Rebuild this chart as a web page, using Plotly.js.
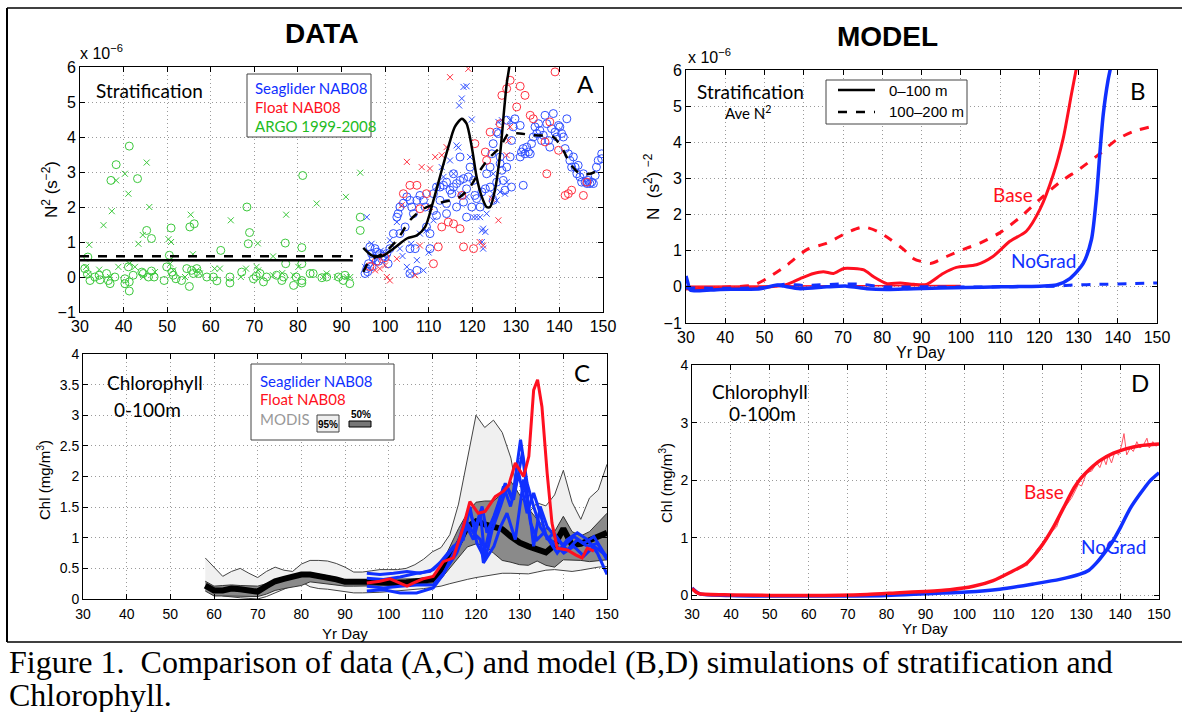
<!DOCTYPE html>
<html><head><meta charset="utf-8">
<script src="https://cdn.plot.ly/plotly-3.0.1.min.js"></script>
<style>html,body{margin:0;padding:0;background:#fff}#c{width:1182px;height:712px}</style>
</head><body><div id="c"></div>
<script>
// ---------- Panel A: data (N^2, units 1e-6 s^-2) ----------
const argoCircles = [[31.1,0.24],[31.7,0.08],[32.3,-0.1],[33.4,0],[34.6,-0.08],[34.4,0.05],[36.1,0.1],[36.5,-0.1],[36.9,-0.19],[38,0],[40.3,-0.05],[40.3,-0.19],[41.1,0.29],[41.3,-0.14],[41.3,-0.4],[42.2,0.05],[44.2,0.14],[44.5,0.1],[45.7,0],[46.4,0.17],[47,0],[49.3,-0.1],[49.9,0.29],[50.5,0.62],[51.1,0.14],[51.4,0.05],[52,-0.05],[53.3,-0.1],[54.5,0.24],[55.1,-0.27],[55.6,0.19],[56,0.1],[56.8,0.24],[57.2,0.1],[59.1,0],[60.6,0],[61.4,-0.11],[64.4,0],[64.4,-0.17],[67.1,0.14],[69.8,-0.05],[70.4,0.02],[71.3,0.1],[72.1,-0.14],[72.8,0],[75.1,0.05],[76.3,-0.1],[76.7,0],[79,-0.24],[79.6,0],[80.9,-0.17],[82.8,0.1],[80.9,0.38],[83.5,0.1],[85.5,-0.02],[86.6,0],[89.3,0],[90.4,-0.1],[91.9,-0.19],[90.8,0.05],[94.3,1.33],[94.3,1.71],[80.9,-0.1],[31.8,0.57],[41.3,3.74],[38.3,3.21],[37.1,2.76],[43.2,2.81],[45.3,1.33],[46.4,1.1],[50.9,1.4],[55.2,1.43],[56.2,1.52],[68.3,2.0],[68.9,1.27],[62.3,0.76],[68.6,0.95],[81.1,2.9],[80.9,0.84],[77.1,0.97],[77.2,0.38]];
const argoCrosses = [[45.3,3.27],[40.3,2.95],[41.1,2.38],[38.3,2.76],[37.3,1.88],[35.4,1.48],[32.1,0.92],[43.4,0.95],[45.9,2.0],[44.4,1.2],[50.3,1.08],[50.9,1.0],[55.4,1.78],[55.9,0.65],[64.6,1.62],[77.3,1.78],[31.4,0.29],[31.9,0.08],[34.4,0.21],[36.9,0],[38.8,0.29],[41.3,0.38],[42.6,0.29],[44.5,0],[47.2,0.14],[50.7,0.38],[51.4,0.19],[54.1,0],[56.8,0.19],[57.5,0.1],[60.9,0.24],[62.1,0.24],[66.9,0],[68.1,0.24],[70.5,0.29],[70.9,0.19],[74.3,0.05],[76.4,0.11],[79,0.05],[80.1,0.29],[86.6,0.1],[88.9,0],[91.2,0],[92,0],[94.3,2.98],[91,2.29],[84.3,2.1],[85.8,0],[74.3,0.59],[70.8,0.96]];
const gliderCircles = [[95.4,0.1],[95.8,0.24],[96.2,0.38],[96.9,0.67],[98.1,0.71],[98.8,0.67],[99.2,0.52],[97.7,0.81],[96.5,0.86],[100.4,0.67],[100.7,0.38],[97.3,0.55],[98.5,0.45],[99.6,0.6],[97,0.3],[96,0.15],[101.1,0.81],[101.9,1.24],[102.7,1.71],[103,1.81],[103.4,2.0],[104.2,2.11],[105,2.29],[105.7,2.19],[106.1,2.0],[106.5,1.81],[107.3,2.19],[106.9,0.81],[108,2.33],[108.8,2.19],[109.2,2.0],[109.5,1.43],[110.3,1.24],[110.3,0.81],[105.7,0.1],[107.3,0.19],[105.7,0.81],[103.4,1.24],[104.6,1.43],[111.1,2.38],[111.8,2.57],[112.6,2.57],[113.4,2.62],[114.1,2.71],[114.9,2.48],[115.3,2.38],[115.7,2.57],[116.4,2.67],[117.2,2.76],[118,2.81],[118.7,2.52],[119.1,2.86],[119.5,3.14],[118,2.14],[116.4,2.0],[114.1,2.1],[112.6,2.19],[111.1,1.9],[111.8,1.76],[114.1,1.81],[115.7,2.95],[117.2,3.43],[118.7,1.71],[119.9,2.0],[120.3,2.76],[120.6,2.33],[121,2.24],[121.8,2.0],[122.2,2.43],[123,2.52],[123.3,2.95],[124.1,3.14],[124.5,3.52],[124.8,3.81],[125.6,4.14],[126,4.1],[126.4,3.43],[126.8,3.05],[127.1,2.76],[127.5,2.48],[127.9,3.14],[128.7,3.43],[129,3.9],[129.4,4.29],[129,2.57],[124.1,2.57],[124.8,2.19],[125.6,2.71],[126.4,3.24],[127.9,4.48],[129.8,4.52],[131,4.33],[131.3,3.57],[131.7,3.67],[132.1,3.52],[132.5,3.71],[132.9,3.57],[133.3,3.52],[133.6,3.81],[134,4.0],[134.4,4.29],[134.8,4.1],[135.2,4.38],[135.5,4.19],[135.9,3.9],[136.3,4.05],[136.7,4.62],[137.1,4.38],[137.5,3.9],[137.8,3.71],[138.2,4.24],[138.6,4.67],[139,4.14],[139.4,4.0],[139.8,4.33],[140.1,4.29],[140.5,4.1],[140.9,4.0],[141.3,3.67],[141.7,4.52],[142.05,3.52],[142.4,3.33],[142.8,3.14],[143.2,3.43],[143.6,3.14],[144,2.95],[144.3,3.19],[144.7,2.86],[145.1,2.71],[145.5,2.95],[145.9,2.71],[146.3,2.67],[146.6,2.76],[147,2.67],[147.4,2.71],[147.8,2.67],[148.2,2.9],[148.5,3.14],[148.9,3.33],[149.7,3.52],[149.7,3.38],[131.7,2.62],[131,3.43]];
const gliderCrosses = [[95.8,1.71],[95.4,0.29],[96.9,0.95],[98.1,0.57],[101.1,1.05],[102.7,1.57],[103.4,0.81],[105,0.29],[105.7,0.1],[107.3,0.48],[108.8,0.19],[108,1.24],[109.5,1.33],[111.1,1.62],[113,3.14],[113.4,2.86],[114.9,3.33],[115.7,2.95],[116.4,3.76],[116.8,3.7],[117.2,2.38],[118.7,2.29],[118,5.43],[118.7,5.45],[117.6,5.1],[117,4.9],[119.9,4.5],[119.5,3.43],[120.3,1.71],[121,1.71],[121.8,1.71],[122.2,1.33],[122.5,1.38],[123,1.29],[122.2,1.0],[122.5,0.81],[123.3,1.81],[124.8,2.38],[125.6,2.19],[126.4,2.43],[126.8,4.48],[127.5,2.38],[127.9,2.71],[128.7,4.48],[126,4.43],[124.8,2.95],[97.5,0.4],[99,0.75],[100.5,0.55],[104,0.6],[106,0.95],[110,0.7],[112,2.6]];
const floatCircles = [[104.2,2.38],[105.7,2.62],[107.3,2.62],[108,1.95],[109.5,2.38],[111.1,0.38],[112.2,0.86],[113,1.43],[114.5,1.57],[115.7,1.52],[117.2,1.38],[118,0.86],[120.3,0.81],[120.6,3.81],[123,3.57],[123.3,3.33],[124.1,4.14],[126.4,4.38],[126.8,5.19],[127.9,5.38],[128.7,5.62],[130.2,4.86],[131,5.45],[132.1,5.19],[133.3,4.62],[134,4.52],[137.1,2.95],[136.7,3.86],[137.8,4.43],[139,5.86],[139.8,3.62],[141.3,2.33],[142.05,2.38],[142.8,2.48],[145.5,2.33],[146.3,2.71],[117.6,2.33],[96.5,0.3],[98,0.45],[100,0.55]];
const floatCrosses = [[105,3.29],[108.4,3.14],[110.3,3.1],[111.5,3.43],[113,3.48],[114.1,3.71],[114.9,5.71],[119.1,5.95],[124.5,2.24],[126,1.62],[127.9,3.48],[128.3,3.9],[128.7,4.29],[101.1,-0.1],[100.4,0],[100,0.33],[98.8,0.24],[97.7,0.19],[106.9,0.05],[102.7,0.52],[103.8,2.05],[110.3,2.0],[108,0.9],[122.5,0.9],[121.7,1.0]];
const argoMeanShallow = [[30,0.48],[92.6,0.48]];
const argoMeanDeep = [[30,0.59],[92.6,0.59]];
const obsSmoothShallow = [[95,0.83],[96.9,0.62],[99.2,0.59],[101.9,0.81],[105,1.1],[107.3,1.19],[109.2,1.43],[111.1,2.19],[113,3.05],[114.5,3.71],[116,4.29],[117.6,4.52],[118.7,4.38],[119.9,3.71],[121,2.86],[122.2,2.29],[123.3,2.0],[124.1,2.0],[125.2,2.48],[126.4,3.52],[127.3,4.76],[127.9,5.52],[128.5,6.0],[129,6.5]];
const obsSmoothDeep = [[95,0.14],[96.5,0.48],[99.6,0.67],[102.7,1.05],[105.7,1.62],[108.8,1.95],[111.8,2.1],[114.9,2.19],[117.2,2.29],[119.5,2.57],[121.8,3.05],[124.1,3.43],[126.4,3.71],[128.3,4.1],[130.2,4.11],[134,4.05],[138.6,4.0],[140.9,3.62],[142.4,3.24],[144.7,2.95],[147,2.95],[148.9,3.05],[149.7,3.1]];

// ---------- Panel B: model N^2 ----------
const baseDeep = [[30,-0.05],[41.3,0],[47.2,0.05],[50.6,0.23],[55.7,0.6],[60.8,1.03],[65.9,1.21],[71,1.5],[74.4,1.64],[76.1,1.64],[78.7,1.54],[82.1,1.31],[85.5,1.03],[88,0.78],[90,0.7],[92.5,0.65],[96.4,0.84],[101.5,1.07],[104.9,1.21],[110,1.5],[115.1,1.92],[120.2,2.43],[125.3,2.9],[130.4,3.27],[135.5,3.69],[139.7,4.07],[144,4.3],[150,4.47]];
const baseShallow = [[30,-0.05],[51.5,0],[55.7,0.07],[59.1,0.23],[62.5,0.37],[65,0.42],[67.6,0.37],[70.2,0.51],[72.7,0.51],[75.3,0.47],[77.8,0.28],[81.2,0.09],[84.6,0.11],[88,0.07],[91.3,0.07],[95.5,0.37],[98.9,0.54],[104,0.61],[108.2,0.84],[112.5,1.26],[116.7,1.54],[120.2,2.15],[123.5,3.08],[126.1,4.11],[128.2,5.33],[129.5,6.07]];
const baseThin = [[30,0.02],[100,0.04]];
const noGradShallow = [[30,0.3],[30.5,0.1],[31.1,-0.09],[38.7,-0.07],[48.9,-0.05],[53.2,0.05],[54.9,0.02],[59.1,-0.05],[65.9,0],[71,0.02],[76.1,-0.05],[81.2,-0.07],[88,-0.05],[101.5,-0.02],[110,0],[120.2,0.02],[124.4,0.05],[127.8,0.23],[131.2,0.65],[133.3,1.31],[134.6,2.52],[135.4,3.64],[136.3,4.77],[137.5,5.7],[138.4,6.17]];
const noGradDeep = [[30,-0.03],[50,-0.02],[55,0.07],[60,0.04],[70,0.08],[75,0.07],[80,0.0],[90,0.0],[110,0.0],[124,0.02],[128.6,0.05],[135.4,0.07],[143.9,0.09],[150,0.11]];

// ---------- Panel C: observed chlorophyll ----------
const modisDay  = [58,60,62,64,66,68,70,72,74,76,78,80,82,84,86,88,90,92,94,96,98,100,102,104,106,108,110,112,114,116,118,120,122,124,126,128,130,132,134,136,138,140,142,144,146,148,150];
const modis95Hi = [0.67,0.52,0.37,0.45,0.5,0.42,0.35,0.45,0.52,0.47,0.45,0.57,0.63,0.63,0.62,0.58,0.52,0.44,0.44,0.46,0.48,0.48,0.48,0.5,0.56,0.65,0.77,0.84,1.05,1.55,2.25,3.0,2.8,2.92,2.72,2.3,1.5,1.4,1.57,1.52,1.7,2.1,1.58,1.3,1.65,1.78,2.2];
const modis95Lo = [0.21,0.1,0.05,0.03,0.02,0.01,0.0,0.04,0.1,0.16,0.21,0.28,0.2,0.17,0.16,0.14,0.11,0.1,0.1,0.1,0.11,0.12,0.13,0.14,0.15,0.17,0.19,0.21,0.25,0.29,0.32,0.35,0.37,0.4,0.42,0.42,0.41,0.41,0.44,0.47,0.48,0.46,0.45,0.47,0.5,0.52,0.53];
const modis50Hi = [0.29,0.21,0.22,0.23,0.22,0.21,0.21,0.25,0.31,0.35,0.39,0.42,0.43,0.41,0.38,0.35,0.31,0.29,0.31,0.32,0.32,0.32,0.32,0.33,0.33,0.34,0.35,0.55,0.85,1.15,1.4,1.58,1.6,1.6,1.72,1.92,1.7,1.48,1.3,1.15,1.1,1.35,1.1,1.03,1.1,1.25,1.4];
const modis50Lo = [0.13,0.05,0.05,0.05,0.05,0.04,0.04,0.08,0.14,0.17,0.19,0.22,0.28,0.26,0.24,0.22,0.21,0.21,0.21,0.21,0.22,0.22,0.22,0.23,0.24,0.25,0.26,0.33,0.5,0.68,0.85,0.9,0.87,0.75,0.63,0.6,0.56,0.55,0.62,0.55,0.52,0.64,0.64,0.63,0.61,0.62,0.64];
const modisMedian = [0.22,0.14,0.14,0.17,0.16,0.13,0.12,0.21,0.29,0.33,0.37,0.4,0.4,0.38,0.36,0.32,0.28,0.27,0.28,0.28,0.27,0.27,0.26,0.27,0.28,0.3,0.32,0.45,0.68,0.9,1.18,1.27,1.22,1.17,1.14,1.02,0.92,0.86,0.8,0.76,0.88,1.15,0.88,0.9,0.96,1.02,1.08];
const floatChl = [[95,0.26],[98,0.29],[100.3,0.33],[102.6,0.26],[104.2,0.21],[105.6,0.26],[107.9,0.33],[110.2,0.37],[112.5,0.61],[114.8,0.67],[117.1,1.18],[118.6,1.59],[120.5,1.4],[122.1,1.43],[124.4,1.67],[126.3,1.76],[127.5,1.86],[129,2.22],[130.9,2.0],[132.1,2.33],[133.2,3.41],[134.1,3.58],[135.1,3.14],[136.3,2.05],[137.4,1.24],[138.6,0.83],[140.9,0.8],[142.8,0.72],[144.3,0.67],[145.5,0.83],[147,0.78]];
const glider1 = [[95,0.42],[98,0.4],[101.1,0.42],[104.2,0.45],[107.2,0.42],[110.2,0.48],[113.3,0.7],[116.3,0.97],[118.3,1.46],[119.9,1.18],[121.4,1.51],[122.5,1.08],[124.1,1.35],[125.6,1.67],[126.7,1.89],[128.3,1.62],[130.2,2.6],[131.7,1.89],[133.2,1.51],[134.7,1.18],[136.7,0.97],[138.6,0.75],[140.9,0.97],[143.2,1.08],[145.5,0.97],[147.8,0.75],[150,0.4]];
const glider2 = [[95,0.34],[98.8,0.32],[102.6,0.36],[106.4,0.42],[109.5,0.45],[111.7,0.59],[114.8,0.86],[117.1,0.97],[118.6,1.51],[120.2,0.91],[121.7,0.7],[123.3,1.18],[124.8,1.46],[126.3,1.84],[127.9,1.51],[129.8,2.05],[131.7,1.4],[133.2,1.73],[134.7,1.4],[136.3,0.97],[137.8,1.08],[140.1,0.86],[142.4,1.02],[144.7,0.91],[147,1.02],[149.4,0.75],[150,0.67]];
const glider3 = [[95,0.21],[98.8,0.18],[102.6,0.21],[106.4,0.23],[110.2,0.23],[112.5,0.42],[115.6,0.75],[117.9,1.18],[119.4,0.97],[121,1.4],[122.1,0.64],[123.7,1.13],[125.6,1.51],[127.1,1.84],[128.6,1.62],[130.6,2.38],[132.1,1.51],[133.2,0.86],[134.7,1.51],[136.3,1.18],[138.6,0.97],[140.9,0.8],[143.2,0.97],[145.5,0.86],[147.8,0.91],[150,0.64]];
const glider4 = [[95,0.13],[98.8,0.15],[102.6,0.1],[106.4,0.1],[110.2,0.18],[112.5,0.4],[115.6,0.86],[117.5,1.29],[119.4,1.08],[121,0.97],[121.7,0.59],[124.1,0.86],[125.6,1.18],[127.1,1.4],[129,0.97],[130.9,1.95],[132.5,1.24],[134,0.97],[135.5,1.08],[137.8,0.91],[140.1,0.75],[142.4,0.86],[144.7,0.7],[147,0.86],[150,0.7]];

// ---------- Panel D: model chlorophyll ----------
const baseChl = [[30,0.12],[31,0.06],[32,0.03],[40,0.01],[60,0.0],[75,0.02],[83.4,0.05],[89.9,0.07],[96.3,0.1],[102.3,0.16],[107.4,0.26],[111.7,0.4],[116,0.56],[119.4,0.82],[122.9,1.19],[126.3,1.63],[128.2,1.87],[130,2.04],[132.3,2.2],[134.8,2.34],[138.3,2.47],[141.7,2.55],[145.1,2.6],[150,2.63]];
const baseChlDaily = [[116,0.51],[118.6,0.8],[120.5,0.95],[121.5,1.05],[123.7,1.19],[125,1.45],[127.6,1.7],[128,1.76],[129.3,1.93],[130.1,1.9],[131.4,2.13],[132.7,2.16],[134,2.3],[134.8,2.22],[135.7,2.39],[136.4,2.27],[137,2.44],[137.8,2.3],[138.7,2.5],[139.6,2.44],[140.4,2.61],[141,2.81],[141.7,2.44],[142.6,2.56],[143.4,2.5],[144.3,2.67],[145.1,2.56],[146,2.61],[146.9,2.73],[147.5,2.56],[148.4,2.67],[149.2,2.59],[150,2.63]];
const noGradChl = [[30,0.13],[31,0.07],[32,0.03],[40,0.0],[60,-0.01],[80,0.0],[89.9,0.03],[100.6,0.06],[109.1,0.11],[117.7,0.2],[124.5,0.28],[129.7,0.37],[132,0.44],[134,0.57],[136,0.74],[138,0.93],[140,1.17],[142.5,1.5],[145.1,1.76],[147.7,1.99],[150,2.13]];

// ---------- drawing ----------
const W = 1182, H = 712;
const px = v => v / W, py = v => 1 - v / H;
const SANS = 'Liberation Sans, Arial, sans-serif';
const HUM = 'Lato, Liberation Sans, sans-serif';
const SERIF = 'Liberation Serif, Times New Roman, serif';
const BLUE = '#1030ff', RED = '#ff1020', GREEN = '#3cc83c';
const xs = a => a.map(p => p[0]), ys = a => a.map(p => p[1]);

function line(arr, xa, ya, color, width, dash, shape) {
  return {type:'scatter', mode:'lines', x: xs(arr), y: ys(arr), xaxis: xa, yaxis: ya,
    line:{color, width, dash: dash || 'solid', shape: shape || 'linear', smoothing: 0.7}, hoverinfo:'skip'};
}
function pts(arr, color, symbol, size) {
  return {type:'scatter', mode:'markers', x: xs(arr), y: ys(arr), xaxis:'x', yaxis:'y', cliponaxis:true,
    marker:{symbol, size, color, line:{color, width:1}}, hoverinfo:'skip'};
}

const traces = [
  pts(argoCircles, GREEN, 'circle-open', 8),
  pts(argoCrosses, GREEN, 'x-thin-open', 6),
  pts(gliderCircles, '#3050ff', 'circle-open', 8),
  pts(gliderCrosses, '#3050ff', 'x-thin-open', 6),
  pts(floatCircles, '#ff3040', 'circle-open', 8),
  pts(floatCrosses, '#ff3040', 'x-thin-open', 6),
  line(argoMeanShallow, 'x', 'y', '#000', 2.5),
  line(argoMeanDeep, 'x', 'y', '#000', 2.5, 'dash'),
  line(obsSmoothShallow, 'x', 'y', '#000', 2.5, 'solid', 'spline'),
  line(obsSmoothDeep, 'x', 'y', '#000', 2.5, 'dash', 'spline'),
  // B
  line(baseDeep, 'x2', 'y2', RED, 3, 'dash', 'spline'),
  line(baseThin, 'x2', 'y2', RED, 1.5),
  line(baseShallow, 'x2', 'y2', RED, 3, 'solid', 'spline'),
  line(noGradDeep, 'x2', 'y2', BLUE, 3, 'dash', 'spline'),
  line(noGradShallow, 'x2', 'y2', BLUE, 3.5, 'solid', 'spline'),
  // C
  {type:'scatter', mode:'lines', x: modisDay, y: modis95Lo, xaxis:'x3', yaxis:'y3', line:{color:'#444', width:1}, hoverinfo:'skip'},
  {type:'scatter', mode:'lines', x: modisDay, y: modis95Hi, xaxis:'x3', yaxis:'y3', fill:'tonexty', fillcolor:'#f0f0f0', line:{color:'#444', width:1}, hoverinfo:'skip'},
  {type:'scatter', mode:'lines', x: modisDay, y: modis50Lo, xaxis:'x3', yaxis:'y3', line:{color:'#333', width:1}, hoverinfo:'skip'},
  {type:'scatter', mode:'lines', x: modisDay, y: modis50Hi, xaxis:'x3', yaxis:'y3', fill:'tonexty', fillcolor:'#8a8a8a', line:{color:'#333', width:1}, hoverinfo:'skip'},
  {type:'scatter', mode:'lines', x: modisDay, y: modisMedian, xaxis:'x3', yaxis:'y3', line:{color:'#000', width:6}, hoverinfo:'skip'},
  line(glider1, 'x3', 'y3', BLUE, 3),
  line(glider2, 'x3', 'y3', BLUE, 3),
  line(glider3, 'x3', 'y3', BLUE, 3),
  line(glider4, 'x3', 'y3', BLUE, 3),
  line(floatChl, 'x3', 'y3', RED, 3),
  // D
  line(noGradChl, 'x4', 'y4', BLUE, 3.5, 'solid', 'spline'),
  line(baseChlDaily, 'x4', 'y4', '#ff5060', 1),
  line(baseChl, 'x4', 'y4', RED, 3.5, 'solid', 'spline'),
];

function axis(dom, range, dtick, anchor, fsize) {
  return {domain: dom, range, dtick, tick0: 0, anchor, showline:true, linecolor:'#000', linewidth:1,
    mirror:'ticks', ticks:'inside', ticklen:5, tickcolor:'#000', showgrid:true, gridcolor:'#9a9a9a',
    griddash:'1px,3px', gridwidth:1, zeroline:false, fixedrange:true,
    tickfont:{family:SANS, size:fsize, color:'#000'}};
}
const dom = (a, b) => [a, b];

function T(x, y, text, size, color, extra) {
  return Object.assign({xref:'paper', yref:'paper', x: px(x), y: py(y), text, showarrow:false,
    font:{family: HUM, size, color: color || '#000'}, xanchor:'center', yanchor:'middle'}, extra || {});
}
function rect(x0, y0, x1, y1, fill, lw) {
  return {type:'rect', xref:'paper', yref:'paper', x0: px(x0), x1: px(x1), y0: py(y1), y1: py(y0),
    fillcolor: fill || 'rgba(0,0,0,0)', line:{color: lw === 0 ? 'rgba(0,0,0,0)' : '#444', width: lw || 1}};
}
function seg(x0, y0, x1, y1, w, dash, color) {
  return {type:'line', xref:'paper', yref:'paper', x0: px(x0), x1: px(x1), y0: py(y0), y1: py(y1),
    line:{color: color || '#000', width: w, dash: dash || 'solid'}};
}

const xA = axis(dom(px(80), px(603)), [30,150], 10, 'y', 16);
const xC = axis(dom(px(83), px(607)), [30,150], 10, 'y3', 14);
xC.ticklabelstandoff = 2;
const xD = axis(dom(px(692), px(1159)), [30,150], 10, 'y4', 14);
xD.ticklabelstandoff = 2;

const layout = {
  width: W, height: H, autosize:false, showlegend:false,
  margin:{l:0, r:0, t:0, b:0}, paper_bgcolor:'#fff', plot_bgcolor:'#fff',
  xaxis:  xA,
  yaxis:  axis(dom(py(312), py(67)), [-1,6], 1, 'x', 16),
  xaxis2: axis(dom(px(686), px(1157)), [30,150], 10, 'y2', 16),
  yaxis2: axis(dom(py(323), py(70)), [-1,6], 1, 'x2', 16),
  xaxis3: xC,
  yaxis3: axis(dom(py(599), py(354)), [0,4], 0.5, 'x3', 14),
  xaxis4: xD,
  yaxis4: axis(dom(py(599), py(365)), [-0.06,4], 1, 'x4', 14),
  shapes: [
    seg(7, 8, 1182, 8, 1.5), seg(7, 8, 7, 642, 2), seg(7, 642, 1182, 642, 1.5),
    rect(247, 74, 371, 137, '#fff'),
    rect(826, 80, 967, 124, '#fff'),
    seg(838, 90, 875, 90, 2.5), seg(838, 112, 875, 112, 2.5, 'dash'),
    rect(251, 364, 394, 440, '#fff'),
    rect(317, 415, 339, 432, '#eeeeee'),
    {type:'rect', xref:'paper', yref:'paper', x0:px(349), x1:px(371), y0:py(427), y1:py(421), fillcolor:'#777', line:{color:'#000', width:1}},
  ],
  annotations: [
    T(322, 33, '<b>DATA</b>', 28, '#000', {font:{family:SANS, size:28, color:'#000'}}),
    T(887, 36, '<b>MODEL</b>', 28, '#000', {font:{family:SANS, size:28, color:'#000'}}),
    // panel A
    T(78, 52, 'x 10<sup>−6</sup>', 16, '#000', {xanchor:'left', font:{family:SANS, size:16, color:'#000'}}),
    T(50, 190, 'N<sup>2</sup> (s<sup>−2</sup>)', 17, '#000', {textangle:-90, font:{family:SANS, size:17, color:'#000'}}),
    T(149, 90, 'Stratification', 19),
    T(585, 84, 'A', 24),
    T(253, 88, 'Seaglider NAB08', 15, BLUE, {xanchor:'left'}),
    T(253, 107, 'Float NAB08', 15, RED, {xanchor:'left'}),
    T(253, 126, 'ARGO 1999-2008', 15, '#22bb22', {xanchor:'left'}),
    // panel B
    T(686, 56, 'x 10<sup>−6</sup>', 16, '#000', {xanchor:'left', font:{family:SANS, size:16, color:'#000'}}),
    T(652, 187, 'N  (s<sup>2</sup>) <sup>−2</sup>', 17, '#000', {textangle:-90, font:{family:SANS, size:17, color:'#000'}}),
    T(921, 352, 'Yr Day', 16, '#000', {font:{family:SANS, size:16, color:'#000'}}),
    T(750, 92, 'Stratification', 19),
    T(748, 113, 'Ave N<sup>2</sup>', 15),
    T(1138, 90, 'B', 24),
    T(887, 90, '0–100 m', 15, '#000', {xanchor:'left', font:{family:SANS, size:15, color:'#000'}}),
    T(887, 112, '100–200 m', 15, '#000', {xanchor:'left', font:{family:SANS, size:15, color:'#000'}}),
    T(1013, 194, 'Base', 19, RED),
    T(1043, 260, 'NoGrad', 19, BLUE),
    // panel C
    T(43, 480, 'Chl (mg/m<sup>3</sup>)', 15, '#000', {textangle:-90, font:{family:SANS, size:15, color:'#000'}}),
    T(345, 633, 'Yr Day', 15, '#000', {font:{family:SANS, size:15, color:'#000'}}),
    T(155, 382, 'Chlorophyll', 19),
    T(147, 409, '0-100m', 19),
    T(582, 372, 'C', 24),
    T(258, 381, 'Seaglider NAB08', 15, BLUE, {xanchor:'left'}),
    T(258, 399, 'Float NAB08', 15, RED, {xanchor:'left'}),
    T(258, 419, 'MODIS', 15, '#999', {xanchor:'left'}),
    T(328, 424, '<b>95%</b>', 10, '#000', {font:{family:SANS, size:10, color:'#000'}}),
    T(361, 415, '<b>50%</b>', 10, '#000', {font:{family:SANS, size:10, color:'#000'}}),
    // panel D
    T(665, 483, 'Chl (mg/m<sup>3</sup>)', 15, '#000', {textangle:-90, font:{family:SANS, size:15, color:'#000'}}),
    T(925, 628, 'Yr Day', 15, '#000', {font:{family:SANS, size:15, color:'#000'}}),
    T(760, 391, 'Chlorophyll', 19),
    T(762, 413, '0-100m', 19),
    T(1140, 382, 'D', 24),
    T(1044, 491, 'Base', 19, RED),
    T(1113, 546, 'NoGrad', 19, BLUE),
    // caption
    T(7, 662, 'Figure 1.  Comparison of data (A,C) and model (B,D) simulations of stratification and', 32, '#000', {xanchor:'left', font:{family:SERIF, size:32, color:'#000'}}),
    T(7, 695, 'Chlorophyll.', 32, '#000', {xanchor:'left', font:{family:SERIF, size:32, color:'#000'}}),
  ]
};

Plotly.newPlot('c', traces, layout, {staticPlot:true, displayModeBar:false});
</script>
</body></html>
